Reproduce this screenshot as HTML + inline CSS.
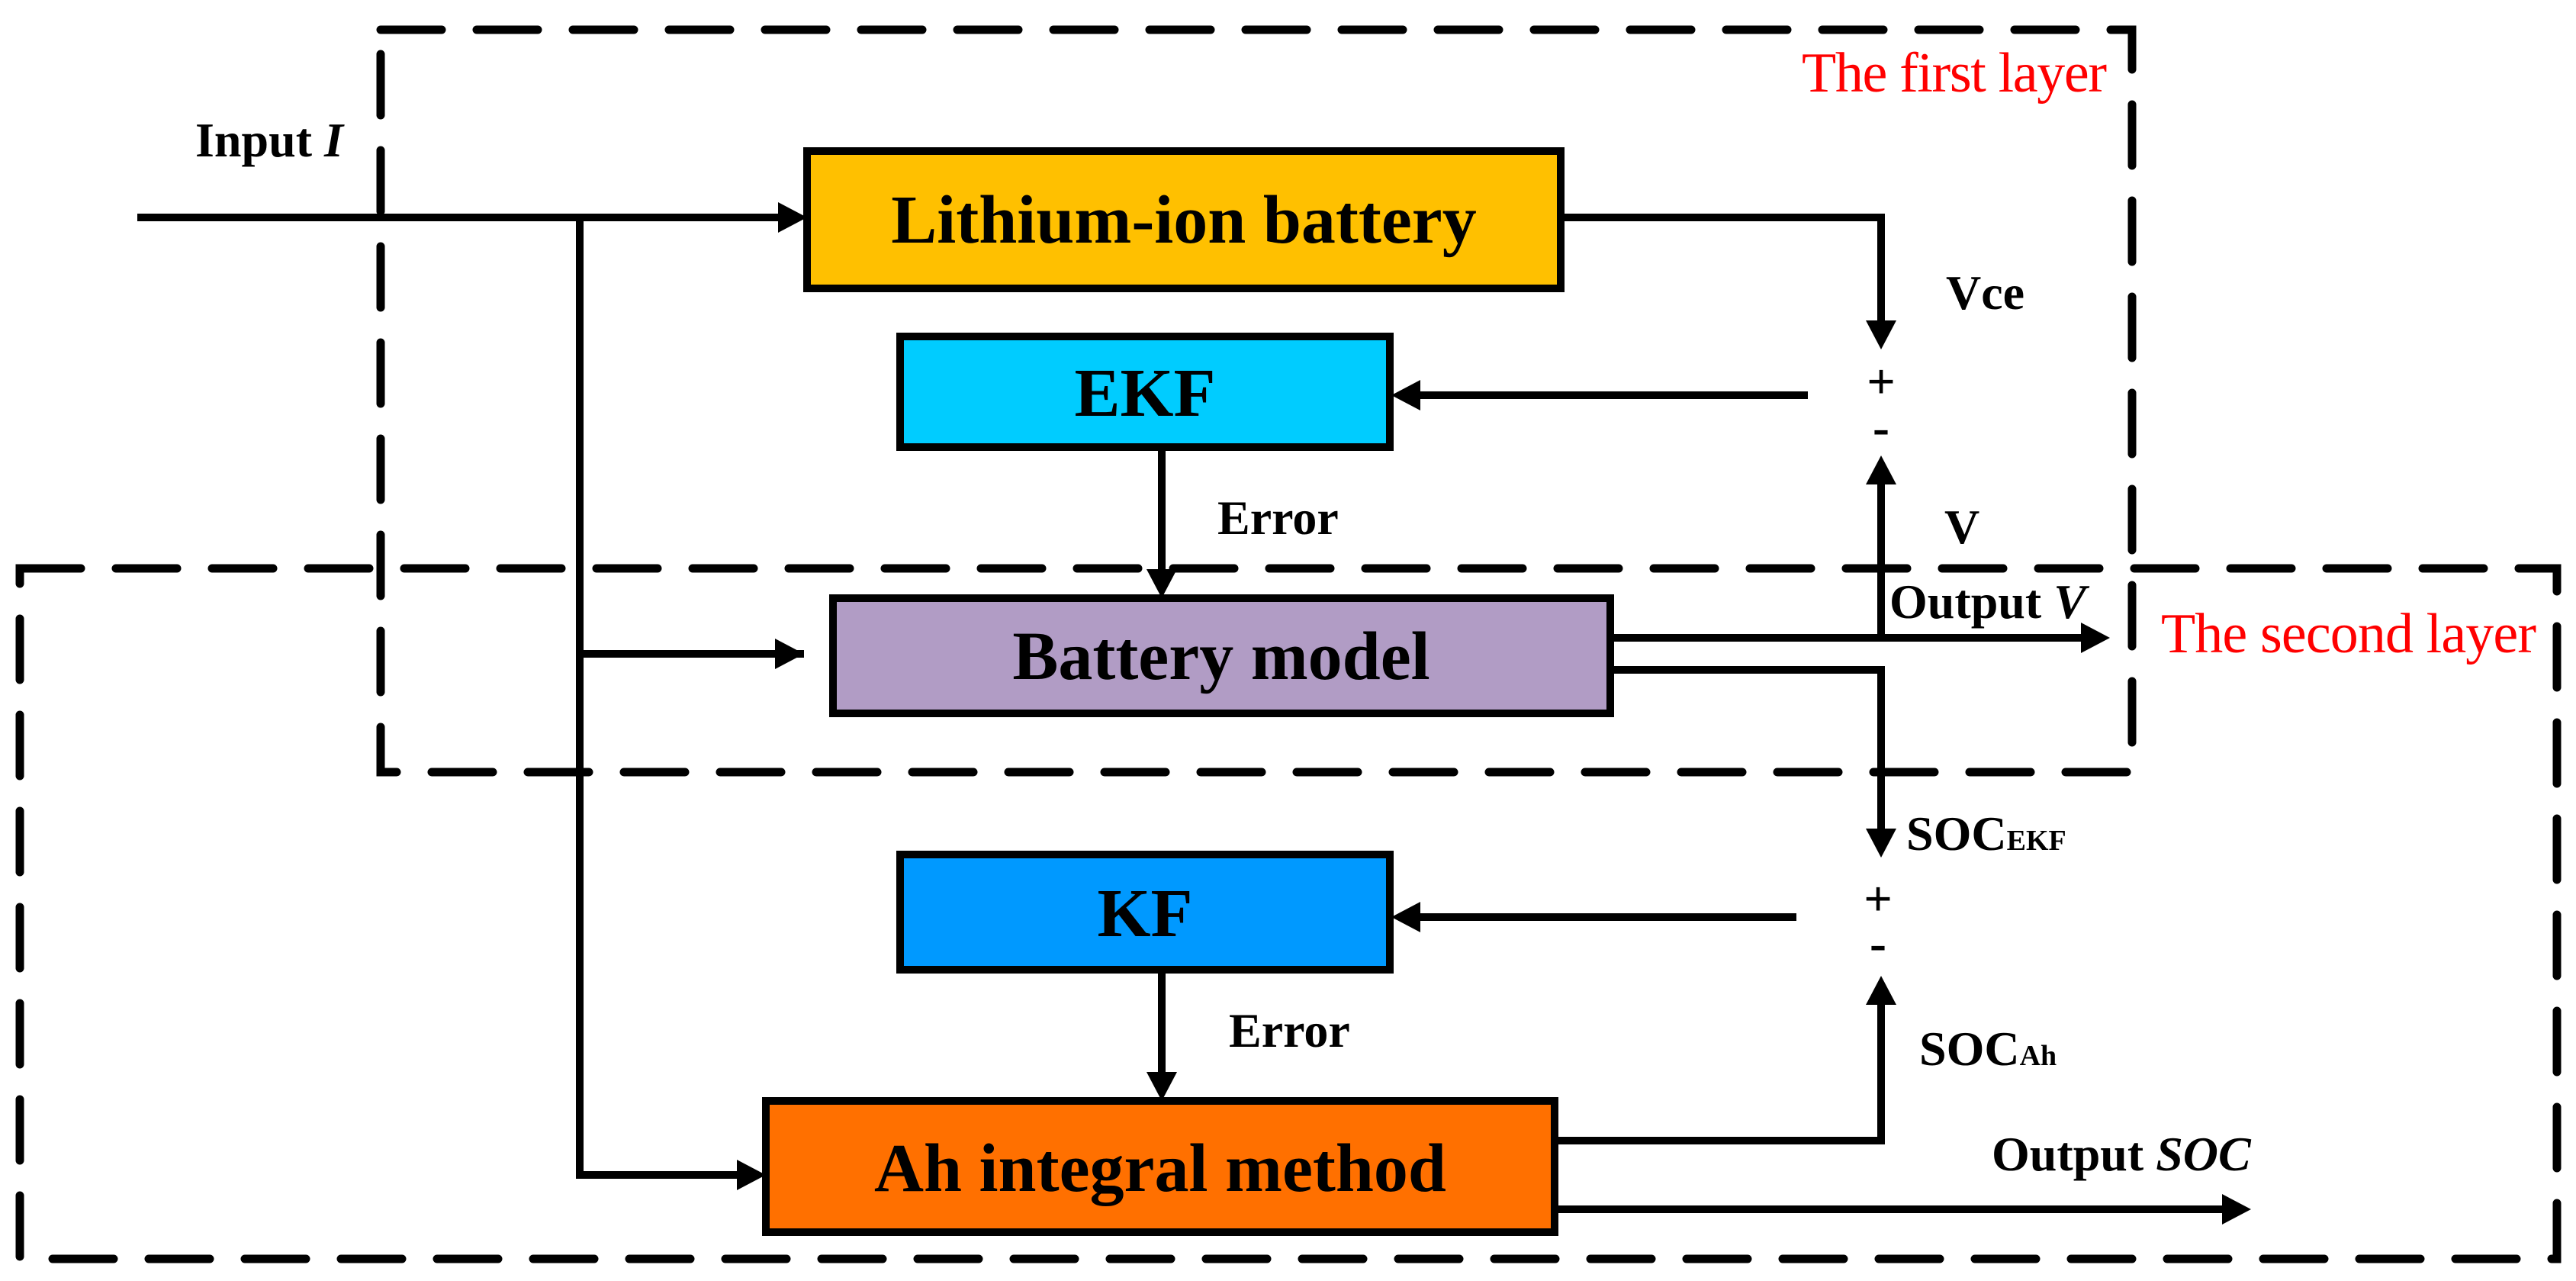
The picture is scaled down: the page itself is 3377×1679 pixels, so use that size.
<!DOCTYPE html>
<html><head><meta charset="utf-8"><style>
html,body{margin:0;padding:0;background:#fff}
svg{display:block}
text{font-family:"Liberation Serif",serif}
</style></head><body>
<svg width="3377" height="1679" viewBox="0 0 3377 1679" xmlns="http://www.w3.org/2000/svg">
<g fill="none" stroke="#000" stroke-width="11" stroke-dasharray="80 46" stroke-linecap="round">
<rect x="499" y="39" width="2296" height="973"/>
<rect x="26" y="745" width="3326" height="905"/>
</g>
<g stroke="#000" stroke-width="10">
<rect x="1058" y="198" width="988" height="180" fill="#FFC000"/>
<rect x="1180" y="441" width="642" height="145" fill="#00CCFF"/>
<rect x="1092" y="784" width="1019" height="151" fill="#B19CC5"/>
<rect x="1180" y="1120" width="642" height="151" fill="#0099FF"/>
<rect x="1004" y="1443" width="1034" height="172" fill="#FF7000"/>
</g>
<g font-weight="bold" font-size="90" text-anchor="middle" fill="#000">
<text x="1552" y="318">Lithium-ion battery</text>
<text x="1501" y="545">EKF</text>
<text x="1601" y="890">Battery model</text>
<text x="1501" y="1227">KF</text>
<text x="1521" y="1561">Ah integral method</text>
</g>
<g fill="none" stroke="#000" stroke-width="10">
<path d="M180 285 H1020"/>
<path d="M760 285 V1540 H966"/>
<path d="M760 857 H1054"/>
<path d="M2046 285 H2466 V420"/>
<path d="M2370 518 H1862"/>
<path d="M2111 836 H2728"/>
<path d="M2466 836 V635"/>
<path d="M1523 586 V746"/>
<path d="M2111 878 H2466 V1086"/>
<path d="M2355 1202 H1862"/>
<path d="M1523 1271 V1405"/>
<path d="M2038 1495 H2466 V1317"/>
<path d="M2038 1585 H2913"/>
</g>
<g fill="#000">
<polygon points="1058,285 1020,265 1020,305"/>
<polygon points="1054,857 1016,837 1016,877"/>
<polygon points="1004,1540 966,1520 966,1560"/>
<polygon points="2466,458 2446,420 2486,420"/>
<polygon points="1824,518 1862,498 1862,538"/>
<polygon points="2766,836 2728,816 2728,856"/>
<polygon points="2466,597 2446,635 2486,635"/>
<polygon points="1523,784 1503,746 1543,746"/>
<polygon points="2466,1124 2446,1086 2486,1086"/>
<polygon points="1824,1202 1862,1182 1862,1222"/>
<polygon points="1523,1443 1503,1405 1543,1405"/>
<polygon points="2466,1279 2446,1317 2486,1317"/>
<polygon points="2951,1585 2913,1565 2913,1605"/>
</g>
<g font-weight="bold" font-size="64" fill="#000">
<text x="256" y="205">Input <tspan font-style="italic">I</tspan></text>
<text x="2551" y="405">Vce</text>
<text x="2466" y="522" font-size="66" text-anchor="middle">+</text>
<text x="2466" y="582" font-size="66" text-anchor="middle">-</text>
<text x="2549" y="712">V</text>
<text x="2477" y="810">Output <tspan font-style="italic">V</tspan></text>
<text x="1596" y="700">Error</text>
<text x="2499" y="1114">SOC<tspan font-size="38">EKF</tspan></text>
<text x="2462" y="1200" font-size="66" text-anchor="middle">+</text>
<text x="2462" y="1258" font-size="66" text-anchor="middle">-</text>
<text x="2516" y="1396">SOC<tspan font-size="38">Ah</tspan></text>
<text x="1611" y="1372">Error</text>
<text x="2611" y="1534">Output <tspan font-style="italic">SOC</tspan></text>
</g>
<g font-size="74" fill="#FF0000">
<text x="2762" y="120" text-anchor="end" textLength="400">The first layer</text>
<text x="3325" y="855" text-anchor="end" textLength="492">The second layer</text>
</g>
</svg>
</body></html>
